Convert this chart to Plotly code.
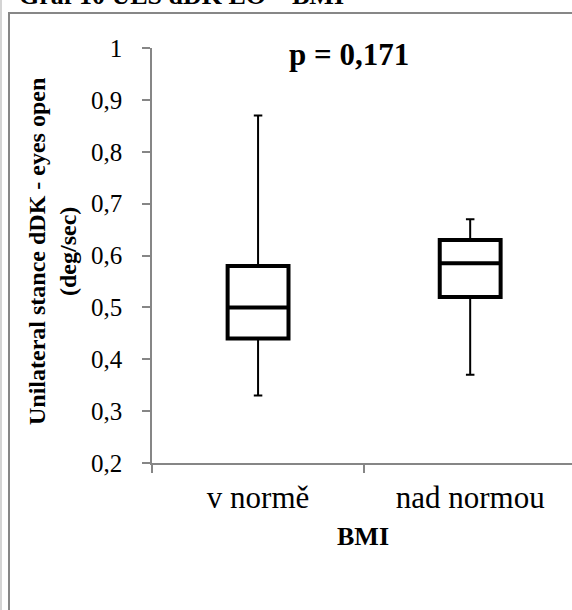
import plotly.graph_objects as go

categories = ["v normě", "nad normou"]
q1 = [0.44, 0.52]
median = [0.50, 0.585]
q3 = [0.58, 0.63]
lowerfence = [0.33, 0.37]
upperfence = [0.87, 0.67]
y_ticks = [0.2, 0.3, 0.4, 0.5, 0.6, 0.7, 0.8, 0.9, 1.0]

SERIF = "Liberation Serif, Times New Roman, serif"

fig = go.Figure()
# thin whiskers + box
fig.add_trace(go.Box(
    x=categories, q1=q1, median=median, q3=q3,
    lowerfence=lowerfence, upperfence=upperfence,
    line=dict(color="black", width=2), fillcolor="white",
    whiskerwidth=0.14, boxpoints=False, showlegend=False, hoverinfo="skip",
))
# thick box outline
fig.add_trace(go.Box(
    x=categories, q1=q1, median=median, q3=q3,
    lowerfence=q1, upperfence=q3,
    line=dict(color="black", width=4), fillcolor="rgba(0,0,0,0)",
    whiskerwidth=0, boxpoints=False, showlegend=False, hoverinfo="skip",
))

W, H = 572, 610
L, R, T, B = 152, 0, 48, 147
pw, ph = W - L - R, H - T - B

def px(xp):
    return (xp - L) / pw

def py(yp):
    return (H - B - yp) / ph

fig.update_layout(
    width=W, height=H,
    margin=dict(l=L, r=R, t=T, b=B, pad=0),
    paper_bgcolor="white", plot_bgcolor="white",
    boxmode="overlay", boxgap=0.59,
    separators=", ",
    font=dict(family=SERIF, color="black"),
    xaxis=dict(
        type="category", range=[-0.5, 1.48],
        showline=True, linecolor="#868686", linewidth=1.5,
        ticks="outside", ticklen=8, tickcolor="#868686", tickwidth=1.5,
        tickson="boundaries", showgrid=False, zeroline=False,
        tickfont=dict(family=SERIF, size=31, color="black"),
        ticklabelstandoff=6,
    ),
    yaxis=dict(
        range=[0.2, 1.0], tickvals=y_ticks,
        showline=True, linecolor="#868686", linewidth=1.5,
        ticks="outside", ticklen=8, tickcolor="#868686", tickwidth=1.5,
        showgrid=False, zeroline=False,
        tickfont=dict(family=SERIF, size=25, color="black"),
        ticklabelstandoff=15,
    ),
    shapes=[
        dict(type="rect", xref="paper", yref="paper",
             x0=px(9), x1=px(W + 20), y0=py(H + 20), y1=py(13),
             line=dict(color="#878787", width=2), fillcolor="rgba(0,0,0,0)", layer="below"),
        dict(type="line", xref="paper", yref="paper",
             x0=px(1), x1=px(1), y0=py(H + 20), y1=py(-20),
             line=dict(color="#d4d4d4", width=2)),
    ],
    annotations=[
        dict(text="<b>p = 0,171</b>", xref="paper", yref="paper",
             x=px(349), y=py(54), xanchor="center", yanchor="middle",
             showarrow=False, font=dict(family=SERIF, size=31, color="black")),
        dict(text="<b>BMI</b>", xref="paper", yref="paper",
             x=px(363), y=py(536), xanchor="center", yanchor="middle",
             showarrow=False, font=dict(family=SERIF, size=26, color="black")),
        dict(text="<b>Unilateral stance dDK - eyes open<br>(deg/sec)</b>",
             xref="paper", yref="paper", x=px(53), y=py(252),
             xanchor="center", yanchor="middle", textangle=-90,
             showarrow=False, font=dict(family=SERIF, size=24, color="black")),
        dict(text="<b>Graf 10 ULS dDK EO – BMI</b>", xref="paper", yref="paper",
             x=px(17), y=py(12), xanchor="left", yanchor="bottom",
             showarrow=False, font=dict(family=SERIF, size=26, color="black")),
    ],
)

fig.write_html("out.html")
